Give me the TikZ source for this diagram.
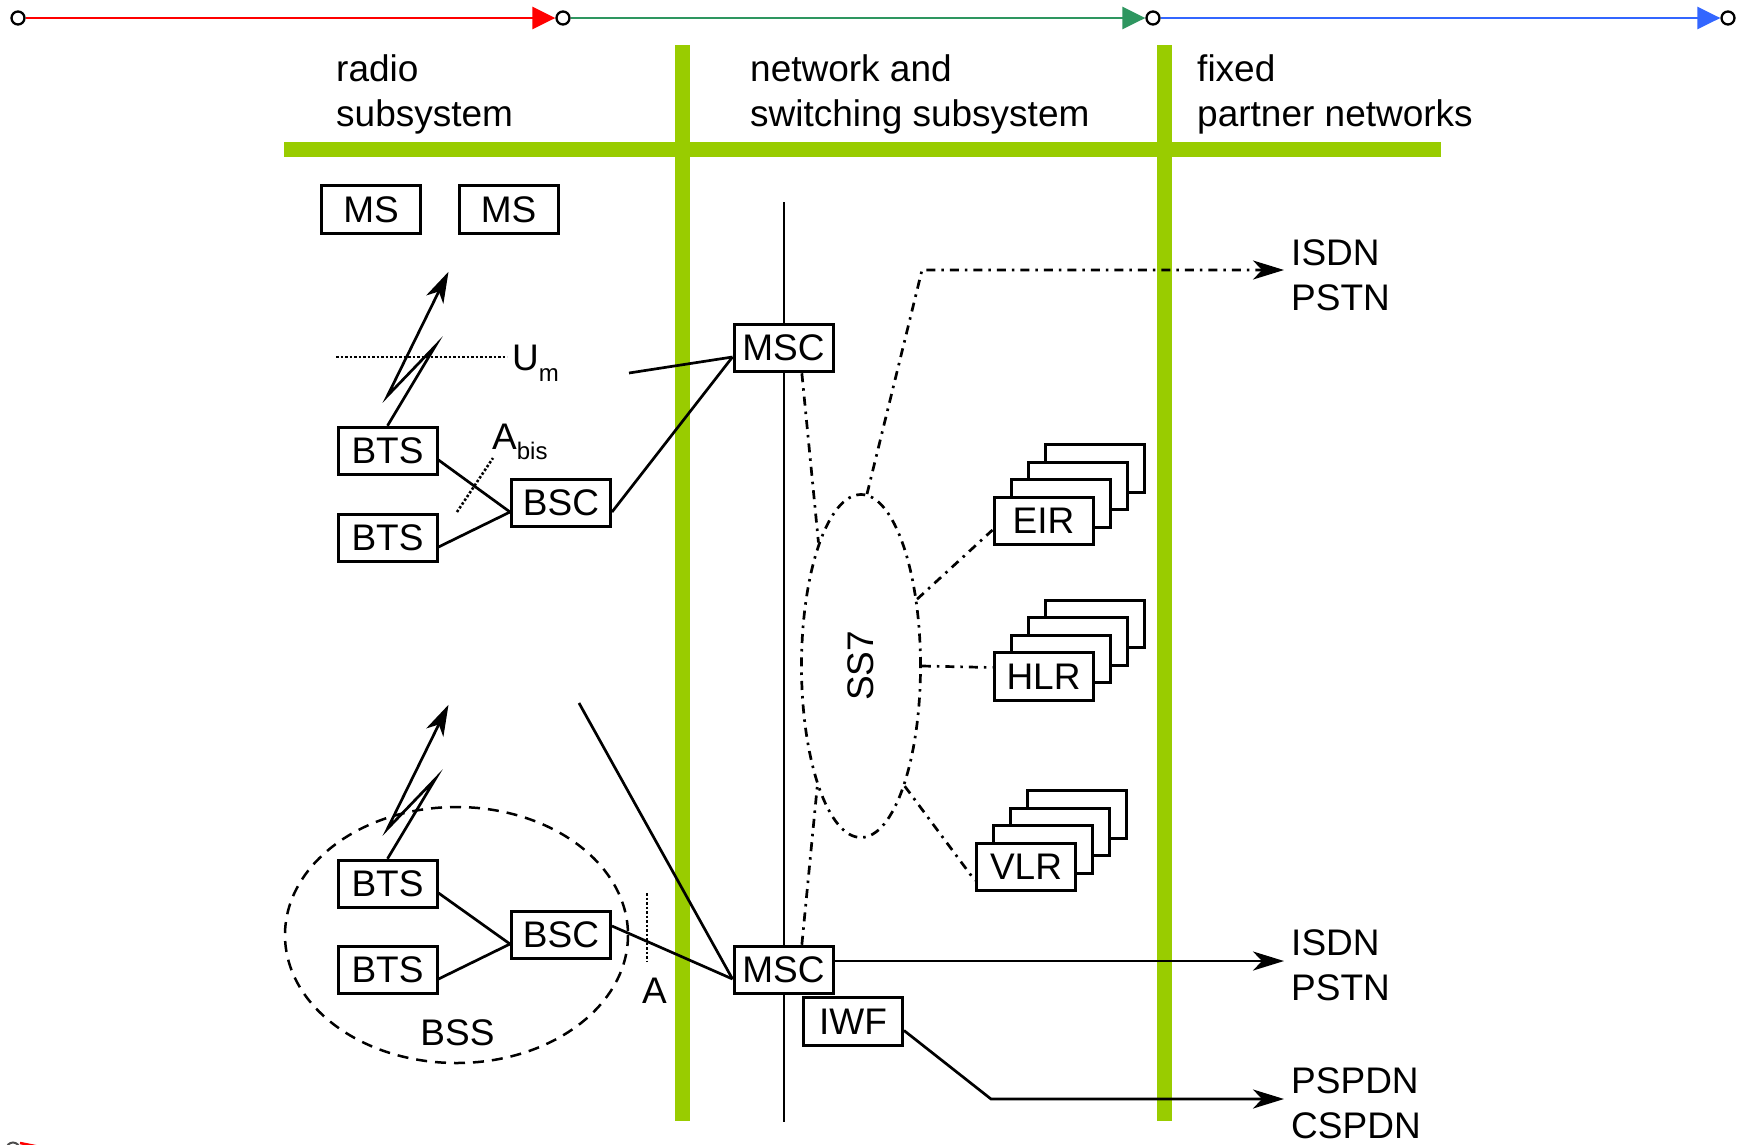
\documentclass[tikz,border=0pt]{standalone}
\usepackage{fontspec}
\setmainfont{Liberation Sans}
\usetikzlibrary{arrows.meta,shapes.geometric}
\definecolor{barGreen}{RGB}{153,204,0}
\definecolor{lineRed}{RGB}{255,0,0}
\definecolor{lineGreen}{RGB}{46,150,96}
\definecolor{lineBlue}{RGB}{51,102,255}
\tikzset{
  lbl/.style={font=\fontsize{37}{45}\selectfont, inner sep=0pt},
  box/.style={draw, line width=3pt, fill=white, minimum width=99pt, minimum height=47.5pt, inner sep=0pt, font=\fontsize{37}{45}\selectfont},
  bar/.style={line width=15pt, color=barGreen},
  conn/.style={line width=2.7pt},
  sig/.style={line width=2.7pt, dash pattern=on 9pt off 6pt on 2.5pt off 6pt},
  arr/.style={-{Stealth[length=31pt, width=19pt, inset=9pt]}},
  dotline/.style={line width=2.6pt, dash pattern=on 2.5pt off 2pt},
  endpt/.style={circle, draw, line width=2.3pt, fill=white, minimum size=13pt, inner sep=0pt},
}
\begin{document}
\begin{tikzpicture}[yscale=-1, x=1pt, y=1pt]
  \useasboundingbox (0,0) rectangle (1745,1144);
  % phases on top
  \node[endpt] (p0) at (18,18) {};
  \node[endpt] (p1) at (563,18) {};
  \node[endpt] (p2) at (1153,18) {};
  \node[endpt] (p3) at (1728,18) {};
  \draw[lineRed, line width=2.8pt, -{Triangle[length=23pt, width=22pt]}] (p0) -- (p1);
  \draw[lineGreen, line width=2.8pt, -{Triangle[length=23pt, width=22pt]}] (p1) -- (p2);
  \draw[lineBlue, line width=2.8pt, -{Triangle[length=23pt, width=22pt]}] (p2) -- (p3);
  \draw[line width=2pt, black!70] (13,1149) circle (6.5);
  \draw[lineRed, line width=2.5pt] (20,1143) -- (40,1147);

  % subsystem borders
  \draw[bar] (284,149) -- (1441,149);
  \draw[bar] (682,45) -- (682,1121);
  \draw[bar] (1164,45) -- (1164,1121);
  \node[lbl, anchor=base west, align=left] (rss) at (336,126) {radio\\subsystem};
  \node[lbl, anchor=base west, align=left] (nss) at (750,126) {network and\\switching subsystem};
  \node[lbl, anchor=base west, align=left] (fpn) at (1197,126) {fixed\\partner networks};

  \draw[conn] (784,202) -- (784,1122);
  \draw[line width=2.5pt, dash pattern=on 11pt off 8pt] (456.5,935) ellipse [x radius=171.5, y radius=128];

  % radio subsystem
  \node[box] (ms1) at (371,209.5) {MS};
  \node[box] (ms2) at (508.5,209.5) {MS};
  \node[box] (bts1) at (387.5,451) {BTS};
  \node[box] (bts2) at (387.5,538) {BTS};
  \node[box] (bsc1) at (561,503) {BSC};
  \node[box] (bts3) at (387.5,884) {BTS};
  \node[box] (bts4) at (387.5,970) {BTS};
  \node[box] (bsc2) at (561,935) {BSC};

  % switching subsystem
  \node[box] (msc1) at (783.5,348) {MSC};
  \node[box] (msc2) at (783.5,970) {MSC};
  \node[box] (iwf) at (853,1021.5) {IWF};
  \node[ellipse, draw, sig, minimum width=119pt, minimum height=343pt, inner sep=0pt,
    label={[lbl, rotate=90]center:SS7}] (ss7) at (861,666) {};
  \foreach \n/\t/\x/\y in {eir/EIR/1043.5/521, hlr/HLR/1043.5/676.5, vlr/VLR/1026/867}{
    \foreach \k in {3,2,1}
      \draw[line width=3pt, fill=white] (\x+17*\k-49.5, \y-17.5*\k-23.75) rectangle ++(99,47.5);
    \node[box] (\n) at (\x,\y) {\t};
  }

  % partner networks
  \node[lbl, inner xsep=7pt, anchor=base west, align=left] (isdn1) at (1284,310) {ISDN\\PSTN};
  \node[lbl, inner xsep=7pt, anchor=base west, align=left] (isdn2) at (1284,1000.5) {ISDN\\PSTN};
  \node[lbl, inner xsep=7pt, anchor=base west, align=left] (pspdn) at (1284,1138.5) {PSPDN\\CSPDN};

  % air interface
  \draw[conn, arr] (bts1.north) -- ++(48,-80) -- ++(-48,50) -- ++(61,-124);
  \draw[conn, arr] (bts3.north) -- ++(48,-80) -- ++(-48,50) -- ++(61,-124);
  \draw[dotline] (336,357) -- (507,357);
  \node[lbl, anchor=base west] (um) at (512,370) {U\raisebox{-11pt}{\fontsize{24}{24}\selectfont m}};
  \draw[dotline] (457,512) -- (493,458);
  \node[lbl, anchor=base west] (abis) at (492,449) {A\raisebox{-10pt}{\fontsize{24}{24}\selectfont bis}};
  \draw[dotline] (647,893) -- (647,962);
  \node[lbl, anchor=base west] (aif) at (642,1003) {A};
  \node[lbl, anchor=base] (bss) at (457.5,1045) {BSS};

  % wires
  \coordinate (c1) at (629,373);
  \coordinate (c2) at (579,703);
  \draw[conn] (bts1.-10) -- (bsc1.190);
  \draw[conn] (bts2.-10) -- (bsc1.190);
  \draw[conn] (bsc1.-10) -- (msc1.190);
  \draw[conn] (c1) -- (msc1.190);
  \draw[conn] (bts3.-10) -- (bsc2.190);
  \draw[conn] (bts4.-10) -- (bsc2.190);
  \draw[conn] (bsc2.10) -- (msc2.190);
  \draw[conn] (c2) -- (msc2.190);

  % signalling
  \coordinate (k1) at (922,270);
  \coordinate (k2) at (991,1099);
  \draw[sig] (msc1.-54) -- (ss7.109);
  \draw[sig] (msc2.54) -- (ss7.-110);
  \draw[sig, arr] (ss7.88) -- (k1) -- (k1 -| isdn1.west);
  \draw[sig] (ss7.50) -- (eir.190);
  \draw[sig] (ss7.east) -- (hlr.170);
  \draw[sig] (ss7.-70) -- (vlr.195);
  \draw[conn, arr] (msc2.10) -- (msc2.10 -| isdn2.west);
  \draw[conn, arr] (iwf.-10) -- (k2) -- (k2 -| pspdn.west);
\end{tikzpicture}
\end{document}
